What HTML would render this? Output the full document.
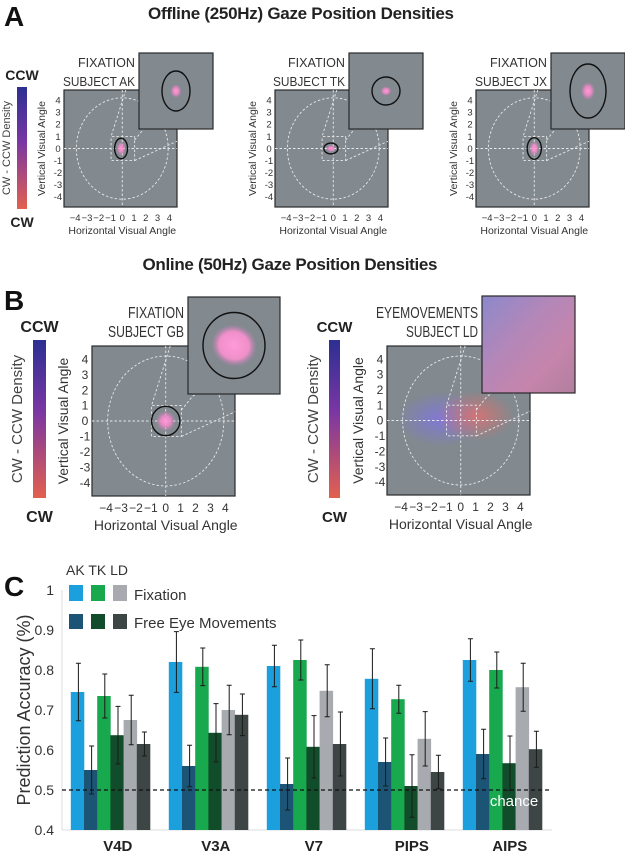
<!DOCTYPE html>
<html><head><meta charset="utf-8"><style>
html,body{margin:0;padding:0;background:#fff;}
svg{display:block;font-family:"Liberation Sans",Arial,sans-serif;}
</style></head><body>
<svg id="fig" width="625" height="853" viewBox="0 0 625 853">
<defs>
<linearGradient id="cbar" x1="0" y1="0" x2="0" y2="1">
<stop offset="0" stop-color="#2c2f92"/><stop offset="0.45" stop-color="#7a36a4"/><stop offset="1" stop-color="#e2604f"/>
</linearGradient>
<radialGradient id="blob"><stop offset="0" stop-color="#ff9ad8"/><stop offset="0.5" stop-color="#f08ac8" stop-opacity="0.9"/><stop offset="1" stop-color="#d080c0" stop-opacity="0"/></radialGradient>
<radialGradient id="blob2"><stop offset="0" stop-color="#ff9ad8"/><stop offset="0.65" stop-color="#f590cc" stop-opacity="0.95"/><stop offset="1" stop-color="#c080b8" stop-opacity="0"/></radialGradient>
<radialGradient id="blueCloud"><stop offset="0" stop-color="#7f74e8" stop-opacity="0.8"/><stop offset="1" stop-color="#7f74e8" stop-opacity="0"/></radialGradient>
<radialGradient id="redCloud"><stop offset="0" stop-color="#e0706e" stop-opacity="0.85"/><stop offset="1" stop-color="#e0706e" stop-opacity="0"/></radialGradient>
<linearGradient id="insetMix" x1="0" y1="0" x2="1" y2="1">
<stop offset="0" stop-color="#8c88cc"/><stop offset="0.4" stop-color="#b487b8"/><stop offset="0.7" stop-color="#c585ac"/><stop offset="1" stop-color="#b27e9e"/>
</linearGradient>
</defs>
<g id="root"></g>
</svg>
<script>
// ---- Panel C data ----
const regions = ["V4D","V3A","V7","PIPS","AIPS"];
const akFix  = [0.745,0.820,0.810,0.778,0.825];
const akFree = [0.550,0.560,0.515,0.570,0.590];
const tkFix  = [0.735,0.808,0.825,0.727,0.800];
const tkFree = [0.637,0.643,0.608,0.510,0.567];
const ldFix  = [0.675,0.700,0.748,0.628,0.757];
const ldFree = [0.615,0.688,0.615,0.545,0.602];
const akFixErr  = [0.072,0.076,0.052,0.075,0.053];
const akFreeErr = [0.060,0.052,0.065,0.060,0.062];
const tkFixErr  = [0.055,0.047,0.050,0.035,0.045];
const tkFreeErr = [0.072,0.073,0.078,0.078,0.068];
const ldFixErr  = [0.062,0.062,0.065,0.068,0.060];
const ldFreeErr = [0.030,0.052,0.080,0.042,0.045];
const yTicks = [0.4,0.5,0.6,0.7,0.8,0.9,1];
const yTickLabels = ["0.4","0.5","0.6","0.7","0.8","0.9","1"];
const chanceLevel = 0.5;

const NS="http://www.w3.org/2000/svg";
const root=document.getElementById('root');
function mk(tag,attrs,parent){const e=document.createElementNS(NS,tag);for(const k in attrs)e.setAttribute(k,attrs[k]);(parent||root).appendChild(e);return e;}
function txt(s,attrs,parent){const e=mk('text',attrs,parent);e.textContent=s;return e;}

// ---- Titles / panel letters ----
let t;
t=txt("A",{x:4,y:26,'font-size':28,'font-weight':'bold',fill:'#111'});

t=txt("Offline (250Hz) Gaze Position Densities",{x:301,y:19,'font-size':17,'font-weight':'bold','text-anchor':'middle',textLength:306,fill:'#222'});

t=txt("Online (50Hz) Gaze Position Densities",{x:290,y:270,'font-size':17,'font-weight':'bold','text-anchor':'middle',textLength:295,fill:'#222'});

t=txt("B",{x:4,y:310,'font-size':28,'font-weight':'bold',fill:'#111'});

t=txt("C",{x:4,y:596,'font-size':28,'font-weight':'bold',fill:'#111'});


// ---- Colorbars ----
function colorbar(x,y,w,h,ccwY,cwY,fs,titleX,titleFs,name){
  const g=mk('g',{});
  
  mk('rect',{x:x,y:y,width:w,height:h,fill:'url(#cbar)'},g);
  txt("CCW",{x:x+w/2,y:ccwY,'font-size':fs,'font-weight':'bold','text-anchor':'middle',fill:'#222'},g);
  txt("CW",{x:x+w/2,y:cwY,'font-size':fs,'font-weight':'bold','text-anchor':'middle',fill:'#222'},g);
  txt("CW - CCW Density",{x:0,y:0,'font-size':titleFs,'text-anchor':'middle',fill:'#444',transform:`translate(${titleX},${y+h/2}) rotate(-90)`},g);
}
colorbar(17,87,10,122,80,227,14,10,11,'colorbar-a');
colorbar(33,340,13,158,332,522,16,22,15,'colorbar-b-fixation');
colorbar(329,340,11,158,332,522,15,318,15,'colorbar-b-eyemovements');

// ---- Gaze plots ----
function gaze(o){
  const g=mk('g',{});
  
  const {x,y,w,h}=o; const ux=w/9.6, uy=h/9.7;
  const cx=x+w/2+ux*0.15, cy=y+h/2;
  const X=v=>cx+v*ux, Y=v=>cy-v*uy;
  mk('rect',{x:x,y:y,width:w,height:h,fill:'#82898f',stroke:'#2a2a2a','stroke-width':1.2},g);
  if(o.clouds){
    mk('ellipse',{cx:X(-1.3),cy:Y(0.1),rx:ux*3,ry:uy*1.8,fill:'url(#blueCloud)'},g);
    mk('ellipse',{cx:X(1.0),cy:Y(0.3),rx:ux*2.6,ry:uy*1.6,fill:'url(#redCloud)'},g);
  }
  const ds={fill:'none',stroke:'#e8e8e8','stroke-width':0.9,'stroke-dasharray':'2.5,2'};
  mk('line',Object.assign({x1:x,y1:cy,x2:x+w,y2:cy},ds),g);
  mk('line',Object.assign({x1:cx,y1:y,x2:cx,y2:y+h},ds),g);
  mk('ellipse',Object.assign({cx:cx,cy:cy,rx:ux*3.9,ry:uy*4.2},ds),g);
  mk('polyline',Object.assign({points:`${X(0.3)},${y} ${X(-0.95)},${Y(1)} ${X(1.05)},${Y(1)} ${X(1.05)},${Y(-1)} ${X(-0.95)},${Y(-1)} ${X(-0.95)},${Y(1)}`},ds),g);
  mk('polyline',Object.assign({points:`${X(1.05)},${Y(0.7)} ${X(1.8)},${Y(1.6)} ${X(3)},${Y(2.3)}`},ds),g);
  mk('line',Object.assign({x1:X(1.05),y1:Y(-1),x2:x+w,y2:Y(0.6)},ds),g);
  if(o.blob){
    const b=o.blob;
    mk('ellipse',{cx:X(b.x),cy:Y(b.y),rx:b.rx*ux*0.7,ry:b.ry*uy*0.7,fill:'url(#blob)'},g);
    mk('ellipse',{cx:X(b.x),cy:Y(b.y),rx:b.rx*ux,ry:b.ry*uy,fill:'none',stroke:'#111','stroke-width':1.4},g);
  }
  const tk=[-4,-3,-2,-1,0,1,2,3,4];
  tk.forEach(v=>{
    txt(v<0?"\u2212"+(-v):String(v),{x:X(v),y:y+h+o.txOff,'font-size':o.fs,'text-anchor':'middle',fill:'#333'},g);
    txt(v<0?"-"+(-v):String(v),{x:x-o.tyOff,y:Y(v)+o.fs*0.35,'font-size':o.fs,'text-anchor':'middle',fill:'#333'},g);
  });
  txt("Horizontal Visual Angle",{x:cx,y:y+h+o.titleOff,'font-size':o.tfs,'text-anchor':'middle',fill:'#333'},g);
  txt("Vertical Visual Angle",{x:0,y:0,'font-size':o.tfs,'text-anchor':'middle',fill:'#333',transform:`translate(${x-o.vtOff},${cy}) rotate(-90)`},g);
  const I=o.inset;
  mk('rect',{x:I.x,y:I.y,width:I.w,height:I.h,fill:o.clouds?'url(#insetMix)':'#82898f',stroke:'#2a2a2a','stroke-width':1.2},g);
  if(I.e){
    const bs=I.e.bs||0.4;
    mk('ellipse',{cx:I.x+I.w/2,cy:I.y+I.h/2,rx:I.e.rx*bs,ry:I.e.ry*bs*0.85,fill:I.e.bs?'url(#blob2)':'url(#blob)',transform:I.e.bs?`rotate(20 ${I.x+I.w/2} ${I.y+I.h/2})`:''},g);
    mk('ellipse',{cx:I.x+I.w/2,cy:I.y+I.h/2,rx:I.e.rx,ry:I.e.ry,fill:'none',stroke:'#111','stroke-width':1.4},g);
  }
  txt(o.l1,{x:I.x-4,y:o.ly1,'font-size':o.lfs,'text-anchor':'end',fill:'#333',textLength:o.lw1,lengthAdjust:'spacingAndGlyphs'},g);
  txt(o.l2,{x:I.x-4,y:o.ly2,'font-size':o.lfs,'text-anchor':'end',fill:'#333',textLength:o.lw2,lengthAdjust:'spacingAndGlyphs'},g);
}
const aCommon={fs:9.5,tfs:10.5,txOff:14,titleOff:27,tyOff:6,vtOff:19,lfs:13,ly1:67,ly2:86};
gaze(Object.assign({name:'gaze-plot-ak',x:64,y:90,w:113,h:117,blob:{x:-0.1,y:0,rx:0.55,ry:0.85},inset:{x:139,y:53,w:74,h:76,e:{rx:14,ry:20}},l1:"FIXATION",l2:"SUBJECT AK",lw1:57,lw2:72},aCommon));
gaze(Object.assign({name:'gaze-plot-tk',x:275,y:90,w:113,h:117,blob:{x:-0.2,y:0,rx:0.6,ry:0.45},inset:{x:349,y:53,w:74,h:76,e:{rx:14,ry:14}},l1:"FIXATION",l2:"SUBJECT TK",lw1:57,lw2:72},aCommon));
gaze(Object.assign({name:'gaze-plot-jx',x:476,y:90,w:113,h:117,blob:{x:0,y:0,rx:0.6,ry:0.9},inset:{x:551,y:53,w:74,h:76,e:{rx:18,ry:27}},l1:"FIXATION",l2:"SUBJECT JX",lw1:57,lw2:72},aCommon));
const bCommon={fs:12,tfs:14,txOff:16,titleOff:34,tyOff:7,vtOff:24,lfs:16,ly1:318,ly2:337};
gaze(Object.assign({name:'gaze-plot-gb',x:92,y:346,w:143,h:150,blob:{x:0,y:0,rx:0.95,ry:0.95},inset:{x:188,y:297,w:92,h:97,e:{rx:31,ry:33,bs:0.75}},l1:"FIXATION",l2:"SUBJECT GB",lw1:56,lw2:76},bCommon));
gaze(Object.assign({name:'gaze-plot-ld',x:387,y:346,w:143,h:149,clouds:true,inset:{x:482,y:296,w:93,h:97},l1:"EYEMOVEMENTS",l2:"SUBJECT LD",lw1:102,lw2:72},bCommon));

// ---- Panel C chart ----
const axL=62, axR=552, y0=830, pxPer=400;
const yS=v=>y0-(v-0.4)*pxPer;
const groupX=i=>70.8+i*98;
const barW=13.2;
const series=[
 {name:'ak-fixation',vals:akFix,err:akFixErr,color:'#1ba0dd'},
 {name:'ak-free',vals:akFree,err:akFreeErr,color:'#1c5475'},
 {name:'tk-fixation',vals:tkFix,err:tkFixErr,color:'#18a84e'},
 {name:'tk-free',vals:tkFree,err:tkFreeErr,color:'#114d2b'},
 {name:'ld-fixation',vals:ldFix,err:ldFixErr,color:'#a7abb0'},
 {name:'ld-free',vals:ldFree,err:ldFreeErr,color:'#3d4545'}
];
const cg=mk('g',{});


const yAxis=mk('line',{x1:axL,y1:yS(1),x2:axL,y2:y0,stroke:'#ddd','stroke-width':1},cg);


const xAxis=mk('line',{x1:axL,y1:y0,x2:axR,y2:y0,stroke:'#ddd','stroke-width':1},cg);


yTicks.forEach((v,i)=>{
  const l=txt(yTickLabels[i],{x:54,y:yS(v)+5,'font-size':14,'text-anchor':'end',fill:'#333'},cg);
  
  
});
const yt=txt("Prediction Accuracy (%)",{x:0,y:0,'font-size':18,'text-anchor':'middle',fill:'#333',transform:`translate(30,${(yS(1)+y0)/2}) rotate(-90)`},cg);


regions.forEach((r,i)=>{
  series.forEach((s,j)=>{
    const bx=groupX(i)+j*barW;
    const b=mk('rect',{x:bx,y:yS(s.vals[i]),width:barW+0.3,height:y0-yS(s.vals[i]),fill:s.color},cg);
    
    
  });
});
const chance=mk('line',{x1:axL,y1:yS(chanceLevel),x2:axR,y2:yS(chanceLevel),stroke:'#111','stroke-width':1.2,'stroke-dasharray':'4,3'},cg);


regions.forEach((r,i)=>{
  series.forEach((s,j)=>{
    const mx=groupX(i)+j*barW+barW/2+1;
    const hi=yS(s.vals[i]+s.err[i]), lo=yS(s.vals[i]-s.err[i]);
    const eb=mk('path',{d:`M${mx},${hi}V${lo}M${mx-2.5},${hi}H${mx+2.5}M${mx-2.5},${lo}H${mx+2.5}`,stroke:'#1a1a1a','stroke-width':1,fill:'none'},cg);
    
    
  });
  const cl=txt(r,{x:groupX(i)+47,y:851,'font-size':15,'font-weight':'bold','text-anchor':'middle',fill:'#222'},cg);
  
  
});
const ch=txt("chance",{x:514,y:806,'font-size':15,'text-anchor':'middle',fill:'#fff'},cg);


const lg=mk('g',{});


txt("AK TK LD",{x:66,y:575,'font-size':14,fill:'#333'},lg);
const legX=[69,91,113];
[series[0],series[2],series[4]].forEach((s,k)=>mk('rect',{x:legX[k],y:585,width:14,height:16,fill:s.color},lg));
[series[1],series[3],series[5]].forEach((s,k)=>mk('rect',{x:legX[k],y:614,width:14,height:15,fill:s.color},lg));
txt("Fixation",{x:134,y:600,'font-size':15,fill:'#333'},lg);
txt("Free Eye Movements",{x:134,y:628,'font-size':15,fill:'#333'},lg);
</script>
</body></html>
